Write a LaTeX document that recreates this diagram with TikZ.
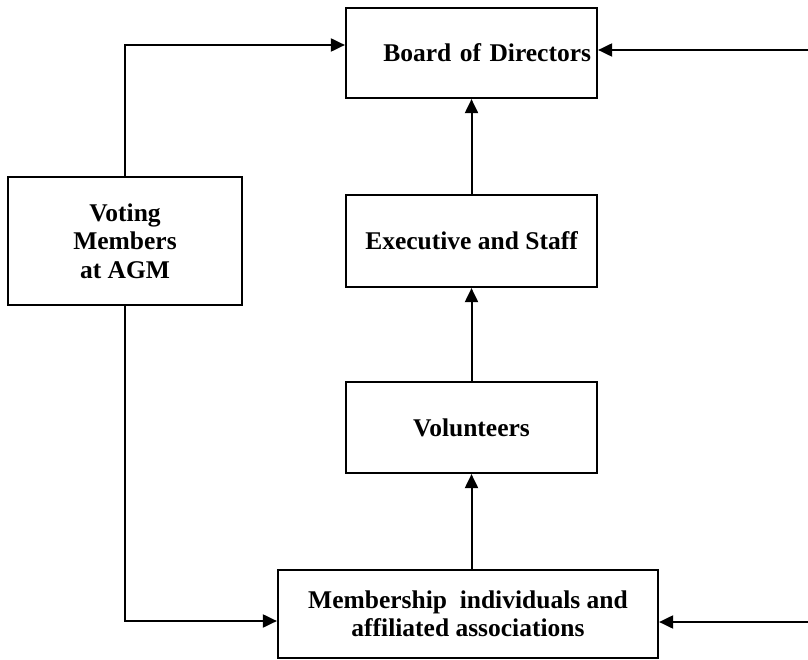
\documentclass[tikz,border=0pt]{standalone}
\usepackage{fontspec}
\setmainfont{Liberation Serif}
\usetikzlibrary{arrows.meta}
\begin{document}
\begin{tikzpicture}
[x=1pt,y=-1pt,line width=2pt,%
  box/.style={draw,rectangle,line width=2.2pt,inner sep=0pt,align=center,%
    font=\fontsize{25.5}{28.5}\selectfont\bfseries},%
  link/.style={-{Triangle[length=14pt,width=13pt]}}]
\useasboundingbox (0,0) rectangle (808,660);
% the boxes
\node[box,text width=239pt,align=right,inner xsep=6pt,minimum height=90pt]
  (board) at (471.5,53) {Board of Directors};
\node[box,minimum width=251pt,minimum height=92pt] (exec) at (471.5,241) {Executive and Staff};
\node[box,minimum width=251pt,minimum height=91pt] (vol) at (471.5,427.5) {Volunteers};
\node[box,minimum width=380pt,minimum height=88pt] (memb) at (468,614)
  {Membership\ \ individuals and\\affiliated associations};
\node[box,minimum width=234pt,minimum height=128pt] (vote) at (125,241)
  {Voting\\Members\\at AGM};
% free ends on the right
\coordinate (rtop) at (808,50);
\coordinate (rbot) at (808,622);
% connectors
\draw[link] (exec.north) -- (exec.north |- board.south);
\draw[link] (vol.north) -- (vol.north |- exec.south);
\draw[link] (memb.north -| vol.south) -- (vol.south);
\draw[link] (vote.north) |- ([yshift=8pt]board.west);
\draw[link] (vote.south) |- ([yshift=-7pt]memb.west);
\draw[link] (rtop) -- (board.east |- rtop);
\draw[link] (rbot) -- (memb.east |- rbot);
\end{tikzpicture}
\end{document}
